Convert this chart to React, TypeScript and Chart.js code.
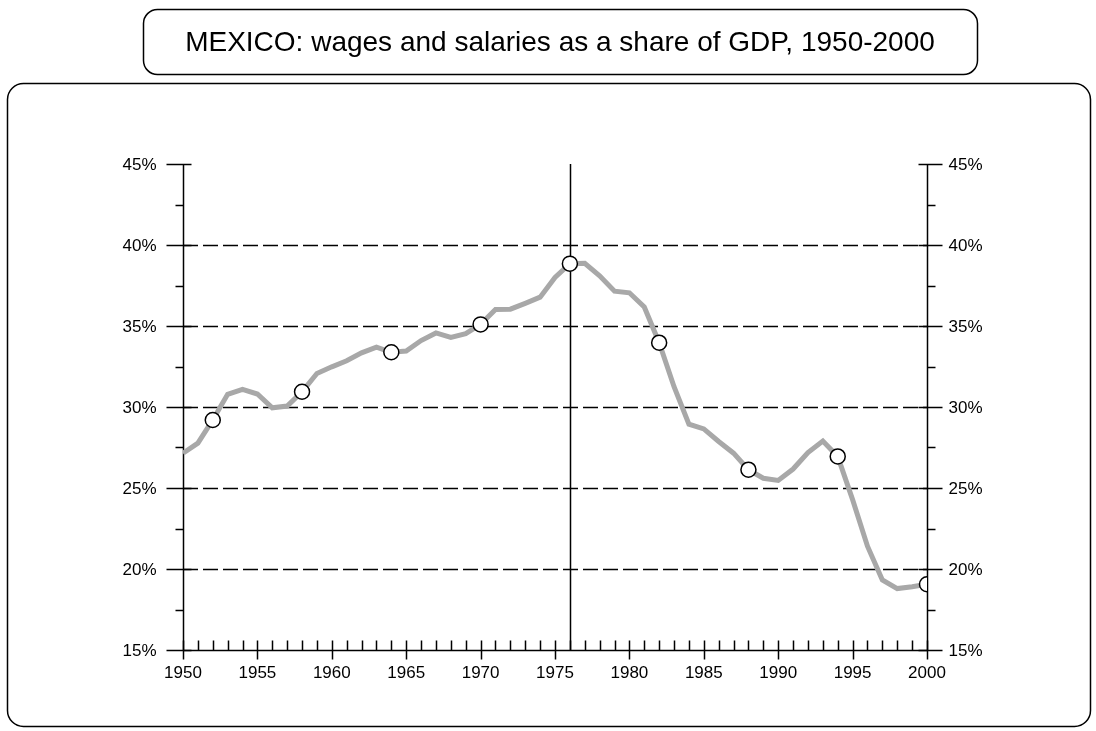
import React, { useEffect, useRef } from "react";
import { Chart, registerables } from "chart.js";

Chart.register(...registerables);

const years: number[] = [
  1950, 1951, 1952, 1953, 1954, 1955, 1956, 1957, 1958, 1959,
  1960, 1961, 1962, 1963, 1964, 1965, 1966, 1967, 1968, 1969,
  1970, 1971, 1972, 1973, 1974, 1975, 1976, 1977, 1978, 1979,
  1980, 1981, 1982, 1983, 1984, 1985, 1986, 1987, 1988, 1989,
  1990, 1991, 1992, 1993, 1994, 1995, 1996, 1997, 1998, 1999, 2000,
];

const wageShare: number[] = [
  27.15, 27.77, 29.2, 30.78, 31.09, 30.8, 29.95, 30.06, 30.94, 32.07,
  32.48, 32.85, 33.34, 33.7, 33.38, 33.45, 34.1, 34.57, 34.3, 34.53,
  35.1, 36.02, 36.04, 36.4, 36.78, 38.0, 38.85, 38.87, 38.1, 37.15,
  37.05, 36.17, 33.97, 31.25, 28.94, 28.65, 27.87, 27.15, 26.13, 25.6,
  25.47, 26.17, 27.19, 27.9, 26.95, 24.28, 21.41, 19.32, 18.79, 18.91, 19.06,
];

const markerYears: number[] = [1952, 1958, 1964, 1970, 1976, 1982, 1988, 1994, 2000];

const xTickLabels: string[] = ["1950", "1955", "1960", "1965", "1970", "1975", "1980", "1985", "1990", "1995", "2000"];
const yTickLabels: string[] = ["15%", "20%", "25%", "30%", "35%", "40%", "45%"];
const gridLevels: number[] = [20, 25, 30, 35, 40];
const referenceYear = 1976;

const titleText = "MEXICO: wages and salaries as a share of GDP, 1950-2000";
const FONT = "'Liberation Sans', Arial, sans-serif";

function roundRect(ctx: CanvasRenderingContext2D, x: number, y: number, w: number, h: number, r: number) {
  ctx.beginPath();
  ctx.moveTo(x + r, y);
  ctx.lineTo(x + w - r, y);
  ctx.arcTo(x + w, y, x + w, y + r, r);
  ctx.lineTo(x + w, y + h - r);
  ctx.arcTo(x + w, y + h, x + w - r, y + h, r);
  ctx.lineTo(x + r, y + h);
  ctx.arcTo(x, y + h, x, y + h - r, r);
  ctx.lineTo(x, y + r);
  ctx.arcTo(x, y, x + r, y, r);
  ctx.closePath();
}

const decorPlugin = {
  id: "decor",
  beforeDatasetsDraw(chart: any) {
    const ctx: CanvasRenderingContext2D = chart.ctx;
    const xs = chart.scales.x;
    const ys = chart.scales.y;
    const { left, right, top, bottom } = chart.chartArea;
    ctx.save();
    ctx.fillStyle = "#ffffff";
    ctx.fillRect(0, 0, chart.width, chart.height);

    // boxes
    ctx.strokeStyle = "#000";
    ctx.lineWidth = 1.5;
    roundRect(ctx, 143.5, 9.5, 834, 65, 14);
    ctx.stroke();
    roundRect(ctx, 7.5, 83.5, 1083, 643, 16);
    ctx.stroke();

    // title
    ctx.fillStyle = "#000";
    ctx.font = `28px ${FONT}`;
    ctx.textAlign = "center";
    ctx.textBaseline = "middle";
    ctx.fillText(titleText, 560, 43);

    // dashed grid lines
    ctx.lineWidth = 1.5;
    ctx.setLineDash([15, 5]);
    gridLevels.forEach((v) => {
      const y = Math.round(ys.getPixelForValue(v)) + 0.5;
      ctx.beginPath();
      ctx.moveTo(left, y);
      ctx.lineTo(right, y);
      ctx.stroke();
    });
    ctx.setLineDash([]);

    // axes lines
    const lx = Math.round(left) + 0.5;
    const rx = Math.round(right) + 0.5;
    const by = Math.round(bottom) + 0.5;
    ctx.beginPath();
    ctx.moveTo(lx, top);
    ctx.lineTo(lx, bottom);
    ctx.moveTo(rx, top);
    ctx.lineTo(rx, bottom);
    ctx.moveTo(left, by);
    ctx.lineTo(right, by);
    const vx = Math.round(xs.getPixelForValue(referenceYear)) + 0.5;
    ctx.moveTo(vx, top);
    ctx.lineTo(vx, bottom);
    ctx.stroke();

    // y ticks
    ctx.beginPath();
    for (let v = 15; v <= 45; v += 2.5) {
      const y = Math.round(ys.getPixelForValue(v)) + 0.5;
      const major = Math.abs(v % 5) < 1e-6;
      if (major) {
        ctx.moveTo(lx - 17, y);
        ctx.lineTo(lx + 8, y);
        ctx.moveTo(rx - 9, y);
        ctx.lineTo(rx + 15, y);
      } else {
        ctx.moveTo(lx - 8, y);
        ctx.lineTo(lx, y);
        ctx.moveTo(rx, y);
        ctx.lineTo(rx + 8, y);
      }
    }
    // x ticks
    for (let yr = 1950; yr <= 2000; yr++) {
      const x = Math.round(xs.getPixelForValue(yr)) + 0.5;
      if (yr % 5 === 0) {
        ctx.moveTo(x, by - 10);
        ctx.lineTo(x, by + 9);
      } else {
        ctx.moveTo(x, by - 10);
        ctx.lineTo(x, by);
      }
    }
    ctx.stroke();

    // labels
    ctx.font = `17px ${FONT}`;
    ctx.textBaseline = "middle";
    yTickLabels.forEach((lab) => {
      const v = parseFloat(lab);
      const y = ys.getPixelForValue(v);
      ctx.textAlign = "right";
      ctx.fillText(lab, lx - 27, y + 1);
      ctx.textAlign = "left";
      ctx.fillText(lab, rx + 21, y + 1);
    });
    ctx.textAlign = "center";
    ctx.textBaseline = "top";
    xTickLabels.forEach((lab) => {
      const x = xs.getPixelForValue(parseFloat(lab));
      ctx.fillText(lab, x, by + 14);
    });
    ctx.restore();
  },
};

export default function App() {
  const ref = useRef<HTMLCanvasElement | null>(null);
  useEffect(() => {
    if (!ref.current) return;
    const chart = new Chart(ref.current, {
      type: "line",
      data: {
        datasets: [
          {
            data: years.map((y, i) => ({ x: y, y: wageShare[i] })),
            borderColor: "#a8a8a8",
            borderWidth: 5,
            tension: 0,
            fill: false,
            pointRadius: (c: any) => (markerYears.includes(years[c.dataIndex]) ? 7.5 : 0),
            pointBackgroundColor: "#ffffff",
            pointBorderColor: "#000000",
            pointBorderWidth: 1.5,
            pointHoverRadius: 0,
          },
        ],
      },
      options: {
        responsive: false,
        animation: false,
        devicePixelRatio: 1,
        layout: { padding: { left: 183, right: 1096 - 927, top: 164, bottom: 731 - 650 } },
        scales: {
          x: { type: "linear", min: 1950, max: 2000, display: false },
          y: { type: "linear", min: 15, max: 45, display: false },
        },
        plugins: { legend: { display: false }, tooltip: { enabled: false }, title: { display: false } },
        events: [],
      },
      plugins: [decorPlugin],
    } as any);
    return () => chart.destroy();
  }, []);
  return (
    <div style={{ position: "fixed", left: 0, top: 0, width: 1096, height: 731, background: "#fff" }}>
      <canvas ref={ref} width={1096} height={731} style={{ display: "block" }} />
    </div>
  );
}
